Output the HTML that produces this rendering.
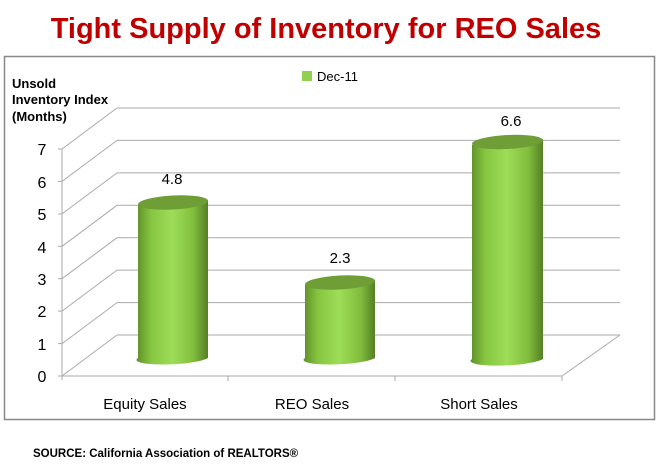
<!DOCTYPE html>
<html><head><meta charset="utf-8"><style>
body{margin:0;background:#fff;width:659px;height:468px;overflow:hidden;font-family:"Liberation Sans",sans-serif}
</style></head><body>
<svg width="659" height="468" xmlns="http://www.w3.org/2000/svg">
<defs>
<linearGradient id="cyl" x1="0" x2="1" y1="0" y2="0">
<stop offset="0" stop-color="#5f8f2a"/><stop offset="0.2" stop-color="#86c540"/><stop offset="0.5" stop-color="#9edd58"/><stop offset="0.8" stop-color="#80bd3c"/><stop offset="1" stop-color="#557f24"/>
</linearGradient>
</defs>
<text x="326" y="38" text-anchor="middle" font-size="29" font-weight="bold" fill="#c00000">Tight Supply of Inventory for REO Sales</text>
<rect x="4.5" y="56.5" width="650" height="363" fill="none" stroke="#888" stroke-width="1.5"/>
<rect x="302" y="71" width="10" height="10" fill="#92d050"/>
<text x="317" y="81" font-size="13" fill="#000">Dec-11</text>
<text x="12" y="88" font-size="13" font-weight="bold">Unsold</text>
<text x="12" y="104" font-size="13" font-weight="bold">Inventory Index</text>
<text x="12" y="121" font-size="13" font-weight="bold">(Months)</text>
<g stroke="#aaa" stroke-width="1" fill="none">
<line x1="62" y1="376" x2="117" y2="335"/><line x1="117" y1="335" x2="620" y2="335"/>
<line x1="62" y1="343.6" x2="117" y2="302.6"/><line x1="117" y1="302.6" x2="620" y2="302.6"/>
<line x1="62" y1="311.1" x2="117" y2="270.1"/><line x1="117" y1="270.1" x2="620" y2="270.1"/>
<line x1="62" y1="278.7" x2="117" y2="237.7"/><line x1="117" y1="237.7" x2="620" y2="237.7"/>
<line x1="62" y1="246.3" x2="117" y2="205.3"/><line x1="117" y1="205.3" x2="620" y2="205.3"/>
<line x1="62" y1="213.9" x2="117" y2="172.9"/><line x1="117" y1="172.9" x2="620" y2="172.9"/>
<line x1="62" y1="181.4" x2="117" y2="140.4"/><line x1="117" y1="140.4" x2="620" y2="140.4"/>
<line x1="62" y1="149" x2="117" y2="108"/><line x1="117" y1="108" x2="620" y2="108"/>
<line x1="62" y1="376" x2="562" y2="376"/><line x1="562" y1="376" x2="620" y2="335"/>
<line x1="62" y1="149" x2="62" y2="380"/>
<line x1="58" y1="376" x2="62" y2="376"/><line x1="58" y1="343.6" x2="62" y2="343.6"/><line x1="58" y1="311.1" x2="62" y2="311.1"/><line x1="58" y1="278.7" x2="62" y2="278.7"/><line x1="58" y1="246.3" x2="62" y2="246.3"/><line x1="58" y1="213.9" x2="62" y2="213.9"/><line x1="58" y1="181.4" x2="62" y2="181.4"/><line x1="58" y1="149" x2="62" y2="149"/>
<line x1="228" y1="376" x2="228" y2="381"/><line x1="395" y1="376" x2="395" y2="381"/><line x1="562" y1="376" x2="562" y2="381"/>
</g>
<g font-size="16" fill="#000" text-anchor="middle">
<text x="42" y="382">0</text><text x="42" y="350">1</text><text x="42" y="317">2</text><text x="42" y="285">3</text><text x="42" y="253">4</text><text x="42" y="220">5</text><text x="42" y="188">6</text><text x="42" y="155">7</text>
</g>
<g>
<path d="M138 205 L138 358 A35 6 -3 0 0 208 358 L208 200 Z" fill="url(#cyl)"/>
<ellipse cx="173" cy="202.5" rx="35" ry="7" transform="rotate(-3 173 202.5)" fill="#6e9e35"/>
<path d="M305 285 L305 358 A35 6 -3 0 0 375 358 L375 280 Z" fill="url(#cyl)"/>
<ellipse cx="340" cy="282.5" rx="35" ry="7" transform="rotate(-3 340 282.5)" fill="#6e9e35"/>
<path d="M472 145 L472 359 A35 6 -3 0 0 543 359 L543 139 Z" fill="url(#cyl)"/>
<ellipse cx="507.5" cy="142" rx="35.5" ry="7" transform="rotate(-3 507.5 142)" fill="#6e9e35"/>
</g>
<g font-size="15" text-anchor="middle" fill="#000">
<text x="172" y="184">4.8</text><text x="340" y="263">2.3</text><text x="511" y="126">6.6</text>
</g>
<g font-size="15" text-anchor="middle" fill="#000">
<text x="145" y="409">Equity Sales</text><text x="312" y="409">REO Sales</text><text x="479" y="409">Short Sales</text>
</g>
<text x="33" y="457" font-size="11.5" font-weight="bold" fill="#000">SOURCE: California Association of REALTORS®</text>
</svg>
</body></html>
